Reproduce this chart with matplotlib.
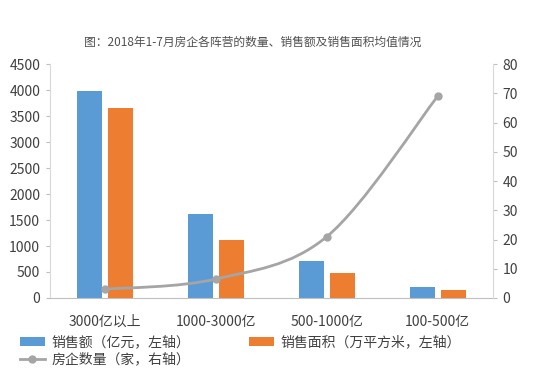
import matplotlib
matplotlib.use("Agg")
import matplotlib.pyplot as plt
from matplotlib.path import Path
from matplotlib.patches import PathPatch
import numpy as np

plt.rcParams['font.family'] = ['Noto Sans CJK SC', 'DejaVu Sans']

categories = ["3000亿以上", "1000-3000亿", "500-1000亿", "100-500亿"]
sales = [3990, 1610, 710, 210]
area = [3650, 1120, 480, 150]
count = [3, 6.5, 21, 69]
left_ticks = [0, 500, 1000, 1500, 2000, 2500, 3000, 3500, 4000, 4500]
right_ticks = [0, 10, 20, 30, 40, 50, 60, 70, 80]

BLUE = "#5B9BD5"
ORANGE = "#ED7D31"
GRAY = "#A5A5A5"
TXT = "#404040"

fig = plt.figure(figsize=(5.49, 3.82), dpi=100)
ax = fig.add_axes([0.091, 0.22, 0.807, 0.612])
ax2 = ax.twinx()

x = np.arange(len(categories))
w = 0.225
b1 = ax.bar(x - 0.14, sales, w, color=BLUE, label="销售额（亿元，左轴）", zorder=2)
b2 = ax.bar(x + 0.14, area, w, color=ORANGE, label="销售面积（万平方米，左轴）", zorder=2)
ax.set_xlim(-0.5, len(categories) - 0.5)
ax.set_ylim(0, 4500)
ax.set_yticks(left_ticks)
ax.set_xticks(x)
ax.set_xticklabels(categories)

# smooth line (Excel-style Bezier) through the data points
pts = np.column_stack([x, count]).astype(float)
n = len(pts)
verts = [tuple(pts[0])]
codes = [Path.MOVETO]
for i in range(n - 1):
    p0 = pts[max(i - 1, 0)]
    p1 = pts[i]
    p2 = pts[i + 1]
    p3 = pts[min(i + 2, n - 1)]
    c1 = p1 + (p2 - p0) / 6.0
    c2 = p2 - (p3 - p1) / 6.0
    verts += [tuple(c1), tuple(c2), tuple(p2)]
    codes += [Path.CURVE4] * 3
ax2.add_patch(PathPatch(Path(verts, codes), facecolor="none", edgecolor=GRAY, lw=2.0, zorder=3))
ax2.plot(x, count, ls="none", marker="o", ms=5, color=GRAY, zorder=4)
line_handle = plt.Line2D([], [], color=GRAY, lw=2.0, marker="o", ms=5)
ax2.set_ylim(0, 80)
ax2.set_yticks(right_ticks)

for a in (ax, ax2):
    a.spines['top'].set_visible(False)
    for s in ('left', 'right'):
        a.spines[s].set_color("#D9D9D9")
    a.spines['bottom'].set_color("#BFBFBF")
    a.tick_params(axis='y', length=3, color="#BFBFBF", labelsize=10, labelcolor=TXT, pad=4)
ax.spines['right'].set_visible(False)
ax2.spines['left'].set_visible(False)
ax2.spines['bottom'].set_visible(False)
ax.tick_params(axis='x', length=0, labelsize=10, labelcolor=TXT, pad=12)

fig.text(0.46, 0.89, "图：2018年1-7月房企各阵营的数量、销售额及销售面积均值情况",
         ha='center', va='center', fontsize=8.5, color="#505050")

fig.legend([b1, line_handle, b2],
           ["销售额（亿元，左轴）", "房企数量（家，右轴）", "销售面积（万平方米，左轴）"],
           ncol=2, loc='upper left', bbox_to_anchor=(0.036, 0.122), frameon=False,
           fontsize=10, handlelength=1.8, handleheight=0.6, labelspacing=0.2,
           columnspacing=4.2, handletextpad=0.5, borderaxespad=0, borderpad=0,
           labelcolor=TXT)

fig.savefig("out.png", dpi=100)
